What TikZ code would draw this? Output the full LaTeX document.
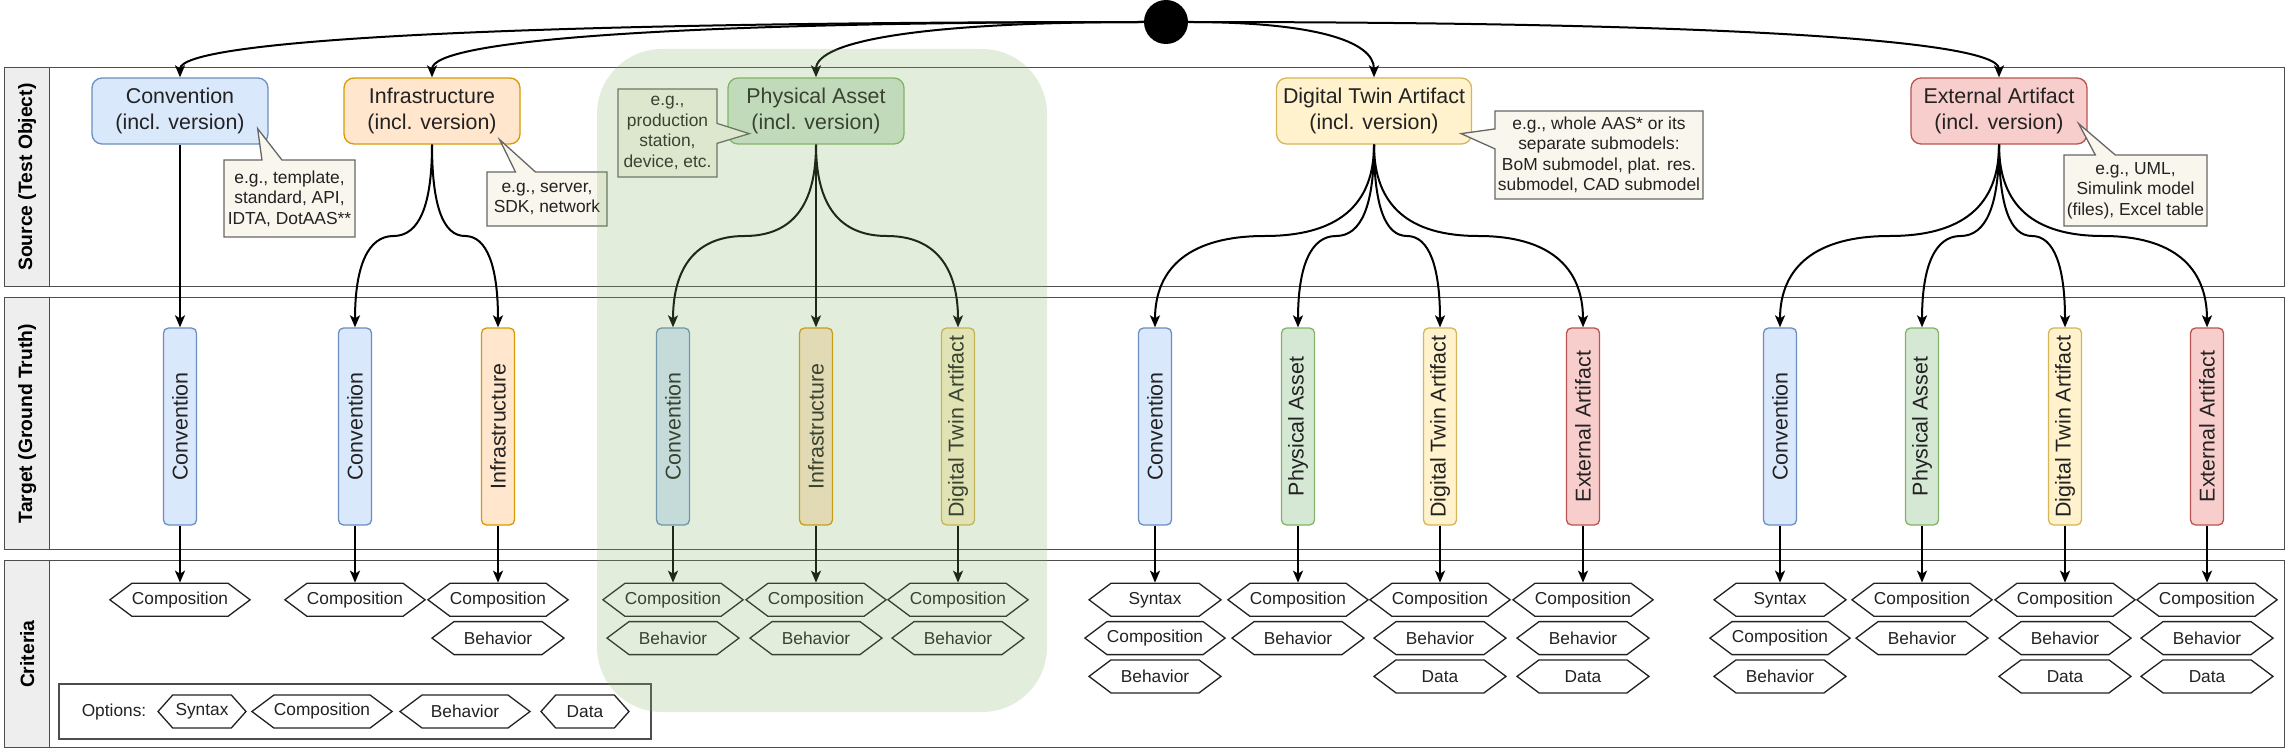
\documentclass[tikz,border=0pt]{standalone}
\usepackage{graphicx}
\usepackage{fontspec}
\setmainfont{Liberation Sans}
\usetikzlibrary{arrows.meta,calc,positioning,shapes.symbols,shapes.callouts}
\definecolor{convfill}{HTML}{DAE8FC}
\definecolor{convline}{HTML}{6C8EBF}
\definecolor{infrafill}{HTML}{FFE6CC}
\definecolor{infraline}{HTML}{D79B00}
\definecolor{physfill}{HTML}{D5E8D4}
\definecolor{physline}{HTML}{82B366}
\definecolor{dtafill}{HTML}{FFF2CC}
\definecolor{dtaline}{HTML}{D6B656}
\definecolor{extfill}{HTML}{F8CECC}
\definecolor{extline}{HTML}{B85450}
\definecolor{notefill}{HTML}{F9F7ED}
\definecolor{notegray}{HTML}{666666}
\definecolor{laneline}{HTML}{4D4D4D}
\definecolor{laneshade}{HTML}{EEEEEE}
\definecolor{ink}{HTML}{222222}
\tikzset{
flow/.style={->,>={Stealth[length=12pt,width=10pt,inset=3pt]},line width=2pt,draw=black},
feed/.style={to path={.. controls ($(\tikztostart)!0.667!(\tikztostart -| \tikztotarget)$)
  and ($(\tikztotarget)!0.667!(\tikztostart -| \tikztotarget)$) .. (\tikztotarget)}},
lanebody/.style={draw=laneline,line width=1.3pt,anchor=north west,minimum width=2280pt,inner sep=0pt},
lanehead/.style={draw=laneline,fill=laneshade,line width=1.3pt,anchor=north west,
  minimum width=45pt,inner sep=0pt,font=\fontsize{19.3}{23}\selectfont\bfseries},
srcbox/.style={draw=#1line,fill=#1fill,line width=1.3pt,rounded corners=10pt,
  minimum width=176pt,minimum height=66pt,inner xsep=6.5pt,align=center,text=ink,
  font=\fontsize{21.4}{26.5}\selectfont},
tgtbox/.style={draw=#1line,fill=#1fill,line width=1.3pt,rounded corners=5pt,
  minimum width=33pt,minimum height=197pt,inner sep=0pt,text=ink,
  font=\fontsize{21.4}{26}\selectfont},
crit/.style={signal,signal to=east and west,signal pointer angle=73.7,draw=ink,fill=white,
  line width=1.3pt,minimum width=132pt,minimum height=33pt,inner sep=0pt,text=ink,
  font=\fontsize{17.3}{20}\selectfont},
notebox/.style={rectangle callout,draw=notegray,fill=notefill,line width=1.3pt,
  callout pointer width=20pt,align=center,inner sep=2pt,text=ink,
  font=\fontsize{17.4}{20.5}\selectfont},
}
% source box to target box, bending at the split line
\newcommand{\fanout}[2]{%
  \path (#1.south |- split) coordinate (bendA)
        (#2.north |- split) coordinate (bendB)
        ($(bendA)!.5!(bendB)$) coordinate (bendM);
  \draw[flow] (#1.south) .. controls ($(#1.south)!0.667!(bendA)$) and ($(bendM)!0.667!(bendA)$) .. (bendM)
    .. controls ($(bendM)!0.667!(bendB)$) and ($(#2.north)!0.667!(bendB)$) .. (#2.north);%
}
\begin{document}
\begin{tikzpicture}[x=1pt,y=1pt]
\useasboundingbox (0,0) rectangle (2291,-752);

% lanes
\node[lanebody,minimum height=219pt] (srclane) at (4,-67) {};
\node[lanehead,minimum height=219pt] (srchead) at (srclane.north west) {\rotatebox{90}{Source (Test Object)}};
\node[lanebody,minimum height=252pt] (tgtlane) at (4,-297) {};
\node[lanehead,minimum height=252pt] (tgthead) at (tgtlane.north west) {\rotatebox{90}{Target (Ground Truth)}};
\node[lanebody,minimum height=187pt] (critlane) at (4,-560) {};
\node[lanehead,minimum height=187pt] (crithead) at (critlane.north west) {\rotatebox{90}{Criteria}};

% start point and sources
\node[circle,fill=black,minimum size=44pt,inner sep=0pt] (dot) at (1166,-22) {};
\coordinate (split) at (0,-236);
\node[srcbox=conv] (cv) at (180,-111) {Convention\\(incl. version)};
\node[srcbox=infra] (infra) at (432,-111) {Infrastructure\\(incl. version)};
\node[srcbox=phys] (phys) at (816,-111) {Physical Asset\\(incl. version)};
\node[srcbox=dta] (dta) at (1374,-111) {Digital Twin Artifact\\(incl. version)};
\node[srcbox=ext] (ext) at (1999,-111) {External Artifact\\(incl. version)};

\draw[flow] (dot.west) to[feed] (cv.north);
\draw[flow] (dot.west) to[feed] (infra.north);
\draw[flow] (dot.west) to[feed] (phys.north);
\draw[flow] (dot.east) to[feed] (dta.north);
\draw[flow] (dot.east) to[feed] (ext.north);

% targets
\node[tgtbox=conv] (t1) at (180,-426.5) {\rotatebox{90}{Convention}};
\node[tgtbox=conv] (t2) at (355,-426.5) {\rotatebox{90}{Convention}};
\node[tgtbox=infra] (t3) at (498,-426.5) {\rotatebox{90}{Infrastructure}};
\node[tgtbox=conv] (t4) at (673,-426.5) {\rotatebox{90}{Convention}};
\node[tgtbox=infra] (t5) at (816,-426.5) {\rotatebox{90}{Infrastructure}};
\node[tgtbox=dta] (t6) at (958,-426.5) {\rotatebox{90}{Digital Twin Artifact}};
\node[tgtbox=conv] (t7) at (1155,-426.5) {\rotatebox{90}{Convention}};
\node[tgtbox=phys] (t8) at (1298,-426.5) {\rotatebox{90}{Physical Asset}};
\node[tgtbox=dta] (t9) at (1440,-426.5) {\rotatebox{90}{Digital Twin Artifact}};
\node[tgtbox=ext] (t10) at (1583,-426.5) {\rotatebox{90}{External Artifact}};
\node[tgtbox=conv] (t11) at (1780,-426.5) {\rotatebox{90}{Convention}};
\node[tgtbox=phys] (t12) at (1922,-426.5) {\rotatebox{90}{Physical Asset}};
\node[tgtbox=dta] (t13) at (2065,-426.5) {\rotatebox{90}{Digital Twin Artifact}};
\node[tgtbox=ext] (t14) at (2207,-426.5) {\rotatebox{90}{External Artifact}};

\fanout{cv}{t1}
\fanout{infra}{t2}
\fanout{infra}{t3}
\fanout{phys}{t4}
\fanout{phys}{t5}
\fanout{phys}{t6}
\fanout{dta}{t7}
\fanout{dta}{t8}
\fanout{dta}{t9}
\fanout{dta}{t10}
\fanout{ext}{t11}
\fanout{ext}{t12}
\fanout{ext}{t13}
\fanout{ext}{t14}

% criteria
\node[crit,below=57pt of t1] (c1a) {Composition};
\node[crit,below=57pt of t2] (c2a) {Composition};
\node[crit,below=57pt of t3] (c3a) {Composition};
\node[crit,below=4pt of c3a] (c3b) {Behavior};
\node[crit,below=57pt of t4] (c4a) {Composition};
\node[crit,below=4pt of c4a] (c4b) {Behavior};
\node[crit,below=57pt of t5] (c5a) {Composition};
\node[crit,below=4pt of c5a] (c5b) {Behavior};
\node[crit,below=57pt of t6] (c6a) {Composition};
\node[crit,below=4pt of c6a] (c6b) {Behavior};
\node[crit,below=57pt of t7] (c7a) {Syntax};
\node[crit,below=4pt of c7a] (c7b) {Composition};
\node[crit,below=4pt of c7b] (c7c) {Behavior};
\node[crit,below=57pt of t8] (c8a) {Composition};
\node[crit,below=4pt of c8a] (c8b) {Behavior};
\node[crit,below=57pt of t9] (c9a) {Composition};
\node[crit,below=4pt of c9a] (c9b) {Behavior};
\node[crit,below=4pt of c9b] (c9c) {Data};
\node[crit,below=57pt of t10] (c10a) {Composition};
\node[crit,below=4pt of c10a] (c10b) {Behavior};
\node[crit,below=4pt of c10b] (c10c) {Data};
\node[crit,below=57pt of t11] (c11a) {Syntax};
\node[crit,below=4pt of c11a] (c11b) {Composition};
\node[crit,below=4pt of c11b] (c11c) {Behavior};
\node[crit,below=57pt of t12] (c12a) {Composition};
\node[crit,below=4pt of c12a] (c12b) {Behavior};
\node[crit,below=57pt of t13] (c13a) {Composition};
\node[crit,below=4pt of c13a] (c13b) {Behavior};
\node[crit,below=4pt of c13b] (c13c) {Data};
\node[crit,below=57pt of t14] (c14a) {Composition};
\node[crit,below=4pt of c14a] (c14b) {Behavior};
\node[crit,below=4pt of c14b] (c14c) {Data};

\draw[flow] (t1.south) -- (c1a.north);
\draw[flow] (t2.south) -- (c2a.north);
\draw[flow] (t3.south) -- (c3a.north);
\draw[flow] (t4.south) -- (c4a.north);
\draw[flow] (t5.south) -- (c5a.north);
\draw[flow] (t6.south) -- (c6a.north);
\draw[flow] (t7.south) -- (c7a.north);
\draw[flow] (t8.south) -- (c8a.north);
\draw[flow] (t9.south) -- (c9a.north);
\draw[flow] (t10.south) -- (c10a.north);
\draw[flow] (t11.south) -- (c11a.north);
\draw[flow] (t12.south) -- (c12a.north);
\draw[flow] (t13.south) -- (c13a.north);
\draw[flow] (t14.south) -- (c14a.north);

% legend
\node[draw=laneline,line width=1.3pt,minimum width=592pt,minimum height=55pt] (optbox) at (355,-711.5) {};
\node[text=ink,font=\fontsize{17.3}{20}\selectfont] (optlabel) at (114,-712) {Options:};
\node[crit,minimum width=88pt,signal pointer angle=96.6] (optsyn) at (202,-711.5) {Syntax};
\node[crit,minimum width=131pt] (optcomp) at (322,-711.5) {Composition};
\node[crit,minimum width=130pt] (optbeh) at (465,-711.5) {Behavior};
\node[crit,minimum width=88pt,signal pointer angle=96.6] (optdata) at (585,-711.5) {Data};

% notes
\node[notebox,minimum width=131pt,minimum height=77pt,callout absolute pointer={($(cv.south east)+(-11,16)$)}] (cvnote) at (289.5,-198.5) {e.g., template,\\standard, API,\\IDTA, DotAAS**};
\node[notebox,minimum width=120pt,minimum height=54pt,callout absolute pointer={($(infra.south east)+(-21,5)$)}] (infranote) at (547,-199) {e.g., server,\\SDK, network};
\node[notebox,minimum width=99pt,minimum height=88pt,callout absolute pointer={($(phys.south west)+(22,11)$)}] (physnote) at (667.5,-133) {e.g.,\\production\\station,\\device, etc.};
\node[notebox,minimum width=208pt,minimum height=88pt,callout absolute pointer={($(dta.south east)+(-11,11)$)}] (dtanote) at (1599,-155) {e.g., whole AAS* or its\\separate submodels:\\BoM submodel, plat. res.\\submodel, CAD submodel};
\node[notebox,minimum width=143pt,minimum height=71pt,callout absolute pointer={($(ext.south east)+(-9,21)$)}] (extnote) at (2135.5,-190.5) {e.g., UML,\\Simulink model\\(files), Excel table};

% physical asset scope
\fill[physline,fill opacity=0.23,rounded corners=65pt] (597,-49) rectangle (1047,-712);
\end{tikzpicture}
\end{document}
